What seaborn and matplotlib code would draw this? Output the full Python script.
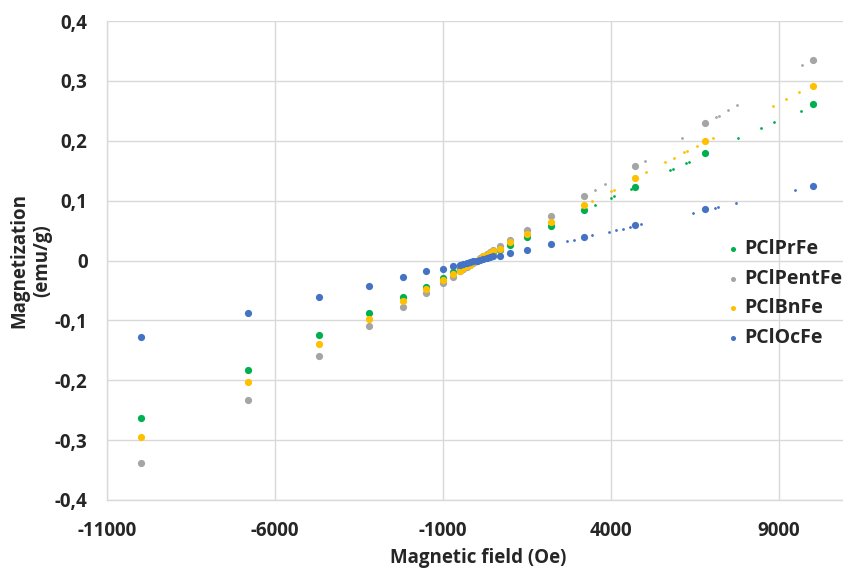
import numpy as np
import pandas as pd
import matplotlib
matplotlib.use("Agg")
import matplotlib.pyplot as plt
import seaborn as sns

# =========================================================================
# DATA
# =========================================================================
field_big = [-10000, -6800, -4700, -3200, -2200, -1500, -1000, -700,
             -500, -400, -300, -200, -100, 0, 100, 200, 300, 400, 500,
             700, 1000, 1500, 2200, 3200, 4700, 6800, 10000]

prfe_big = [-0.263, -0.183, -0.125, -0.087, -0.061, -0.044, -0.029, -0.020,
            -0.015, -0.012, -0.009, -0.006, -0.003, 0.000, 0.003, 0.006, 0.009, 0.012, 0.015,
            0.018, 0.026, 0.039, 0.057, 0.084, 0.123, 0.179, 0.261]
pentfe_big = [-0.338, -0.233, -0.160, -0.110, -0.078, -0.054, -0.037, -0.028,
              -0.018, -0.014, -0.011, -0.007, -0.004, 0.000, 0.004, 0.007, 0.011, 0.014, 0.017,
              0.024, 0.035, 0.051, 0.074, 0.108, 0.158, 0.230, 0.335]
bnfe_big = [-0.295, -0.203, -0.140, -0.097, -0.067, -0.048, -0.032, -0.023,
            -0.017, -0.013, -0.010, -0.007, -0.003, 0.000, 0.003, 0.007, 0.010, 0.013, 0.016,
            0.020, 0.031, 0.045, 0.064, 0.093, 0.137, 0.200, 0.291]
ocfe_big = [-0.127, -0.088, -0.061, -0.043, -0.027, -0.018, -0.015, -0.010,
            -0.008, -0.006, -0.005, -0.003, -0.001, 0.000, 0.001, 0.003, 0.004, 0.006, 0.007,
            0.007, 0.013, 0.018, 0.028, 0.040, 0.059, 0.086, 0.125]

# small extra points on the positive branch
prfe_small_x = [3511, 3999, 4088, 4585, 5755, 5844, 6231, 6320, 7778, 8454, 8850, 9644, 10036]
prfe_small_y = [0.092, 0.104, 0.107, 0.120, 0.151, 0.153, 0.163, 0.165, 0.204, 0.222, 0.232, 0.250, 0.261]
pentfe_small_x = [3523, 3811, 5002, 6103, 7114, 7204, 7472, 7749, 9684]
pentfe_small_y = [0.118, 0.127, 0.167, 0.205, 0.239, 0.242, 0.251, 0.260, 0.326]
bnfe_small_x = [3425, 3991, 4080, 5041, 5606, 5883, 6172, 6261, 6549, 7025, 8820, 9207, 9585]
bnfe_small_y = [0.099, 0.116, 0.118, 0.147, 0.164, 0.172, 0.181, 0.183, 0.191, 0.205, 0.258, 0.270, 0.281]
ocfe_small_x = [2681, 2898, 3425, 3940, 4148, 4356, 4565, 4883, 6448, 7085, 7175, 7710, 9484]
ocfe_small_y = [0.032, 0.035, 0.042, 0.048, 0.051, 0.053, 0.056, 0.061, 0.080, 0.088, 0.089, 0.096, 0.118]

series_names = ["PClPrFe", "PClPentFe", "PClBnFe", "PClOcFe"]
series_colors = ["#00B050", "#A5A5A5", "#FFC000", "#4472C4"]

x_ticks = [-11000, -6000, -1000, 4000, 9000]
y_ticks = [-0.4, -0.3, -0.2, -0.1, 0.0, 0.1, 0.2, 0.3, 0.4]
y_tick_labels = ["-0,4", "-0,3", "-0,2", "-0,1", "0", "0,1", "0,2", "0,3", "0,4"]

# =========================================================================
# TABLES
# =========================================================================
big_vals = [prfe_big, pentfe_big, bnfe_big, ocfe_big]
df_big = pd.concat([
    pd.DataFrame({"field": field_big, "mag": v, "sample": n})
    for n, v in zip(series_names, big_vals)
], ignore_index=True)

small_pairs = [(prfe_small_x, prfe_small_y), (pentfe_small_x, pentfe_small_y),
               (bnfe_small_x, bnfe_small_y), (ocfe_small_x, ocfe_small_y)]
df_small = pd.concat([
    pd.DataFrame({"field": sx, "mag": sy, "sample": n})
    for n, (sx, sy) in zip(series_names, small_pairs)
], ignore_index=True)

# =========================================================================
# PLOT
# =========================================================================
sns.set_theme(style="white")
plt.rcParams["font.family"] = ["Open Sans", "DejaVu Sans"]
plt.rcParams["font.weight"] = "bold"
fsize = 13.5

fig = plt.figure(figsize=(8.43, 5.69), dpi=100)
ax = fig.add_axes([107 / 843, 69 / 569, 736 / 843, 479 / 569])

palette = dict(zip(series_names, series_colors))
for name in series_names:
    sns.scatterplot(data=df_small[df_small["sample"] == name], x="field", y="mag",
                    color=palette[name], s=4, linewidth=0, ax=ax, zorder=3)
    sns.scatterplot(data=df_big[df_big["sample"] == name], x="field", y="mag",
                    color=palette[name], s=27, linewidth=0, ax=ax, zorder=3,
                    label=name)

ax.set_xlim(-11000, 10900)
ax.set_ylim(-0.4, 0.4)
ax.set_xticks(x_ticks)
ax.set_xticklabels([str(t) for t in x_ticks], fontweight="bold")
ax.set_yticks(y_ticks)
ax.set_yticklabels(y_tick_labels, fontweight="bold")
ax.tick_params(axis="both", labelsize=fsize, length=0)
ax.tick_params(axis="x", pad=15)
ax.tick_params(axis="y", pad=14)

ax.grid(True, color="#D9D9D9", linewidth=1)
ax.set_axisbelow(True)
for side in ["top", "right"]:
    ax.spines[side].set_visible(False)
for side in ["left", "bottom"]:
    ax.spines[side].set_color("#D9D9D9")
    ax.spines[side].set_linewidth(1)

ax.set_xlabel("Magnetic field (Oe)", fontsize=fsize, fontweight="bold", va="center")
ax.xaxis.set_label_coords(0.505, -0.121)
ax.set_ylabel("Magnetization\n(emu/g)", fontsize=fsize, fontweight="bold", va="center")
ax.yaxis.set_label_coords(-0.103, 0.5)

leg = ax.legend(loc="center left", bbox_to_anchor=(0.842, 0.431), frameon=False,
                prop={"size": 14, "weight": "bold"}, markerscale=0.7,
                handlelength=0.6, handletextpad=0.3, labelspacing=0.5,
                borderpad=0, borderaxespad=0)

fig.savefig("out.png", dpi=100)
